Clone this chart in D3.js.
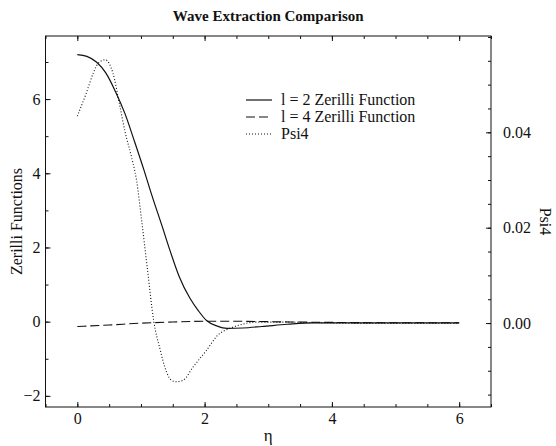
<!DOCTYPE html>
<html>
<head>
<meta charset="utf-8">
<script src="https://cdn.jsdelivr.net/npm/d3@7"></script>
<style>
  html, body { margin: 0; padding: 0; background: #fff; }
  svg { display: block; font-family: "Liberation Serif", "DejaVu Serif", serif; }
</style>
</head>
<body>
<svg id="chart" width="556" height="446"></svg>
<script>
// ---- data ----
const title = "Wave Extraction Comparison";
const xLabel = "η";
const yLeftLabel = "Zerilli Functions";
const yRightLabel = "Psi4";
const seriesNames = ["l = 2 Zerilli Function", "l = 4 Zerilli Function", "Psi4"];

const xTicks = [0, 2, 4, 6];
const yLeftTicks = [-2, 0, 2, 4, 6];
const yRightTicks = [0.00, 0.02, 0.04];

const etaL2 = [0, 0.15, 0.3, 0.45, 0.6, 0.75, 0.9, 1.05, 1.15, 1.35, 1.45, 1.6, 1.77, 1.9, 2.03, 2.2, 2.35, 2.6, 2.9, 3.3, 3.7, 4.5, 5.2, 6.0];
const l2 = [7.2, 7.15, 7.0, 6.7, 6.2, 5.6, 4.85, 4.07, 3.52, 2.48, 1.95, 1.22, 0.63, 0.3, 0.03, -0.12, -0.18, -0.17, -0.13, -0.07, -0.03, -0.03, -0.03, -0.03];

const etaL4 = [0, 0.5, 1.0, 1.5, 2.0, 2.5, 3.0, 4.0, 5.0, 6.0];
const l4 = [-0.13, -0.09, -0.04, -0.01, 0.01, 0.01, 0.0, -0.02, -0.03, -0.03];

const etaPsi = [0, 0.14, 0.25, 0.33, 0.44, 0.56, 0.67, 0.75, 0.85, 0.93, 1.01, 1.1, 1.2, 1.3, 1.4, 1.48, 1.56, 1.66, 1.82, 2.03, 2.21, 2.4, 2.55, 2.82, 3.2, 4.0, 5.0, 6.0];
const psi4 = [0.0434, 0.0482, 0.0524, 0.0545, 0.0552, 0.0524, 0.0454, 0.0401, 0.0349, 0.0300, 0.0216, 0.0115, 0.0005, -0.0055, -0.0102, -0.0120, -0.0123, -0.0120, -0.0092, -0.0057, -0.0025, -0.0011, -0.0004, 0.0002, 0.0002, 0.0, -0.0001, -0.0001];

// ---- layout ----
const svg = d3.select("#chart");
const L = 45.5, R = 491, T = 36, B = 407;

const x = d3.scaleLinear().domain([-0.5, 6.5]).range([L, R]);
const yL = d3.scaleLinear().domain([-2.3, 7.7]).range([B, T]);
const yR = d3.scaleLinear().domain([-0.0176, 0.0602]).range([B, T]);

const ink = "#111";

// frame
svg.append("rect").attr("x", L).attr("y", T).attr("width", R - L).attr("height", B - T)
  .attr("fill", "none").attr("stroke", ink).attr("stroke-width", 1);

function minor(scale, step) {
  const [a, b] = scale.domain();
  const out = [];
  for (let v = Math.ceil(a / step) * step; v <= b + 1e-9; v += step) out.push(+v.toFixed(6));
  return out;
}
const axStyle = g => { g.select(".domain").remove(); g.selectAll("line").attr("stroke", ink); };
const labStyle = g => g.selectAll("text").attr("font-size", 16).attr("fill", ink).attr("font-family", "Liberation Serif");

// bottom
svg.append("g").attr("transform", `translate(0,${B})`)
  .call(d3.axisTop(x).tickValues(minor(x, 0.5)).tickSize(3).tickFormat("")).call(axStyle);
svg.append("g").attr("transform", `translate(0,${B})`)
  .call(d3.axisTop(x).tickValues(xTicks).tickSize(5).tickFormat("")).call(axStyle);
svg.append("g").attr("transform", `translate(0,${B})`)
  .call(d3.axisBottom(x).tickValues(xTicks).tickSize(0).tickPadding(6).tickFormat(d3.format("d")))
  .call(axStyle).call(labStyle);
// top
svg.append("g").attr("transform", `translate(0,${T})`)
  .call(d3.axisBottom(x).tickValues(minor(x, 0.5)).tickSize(3).tickFormat("")).call(axStyle);
svg.append("g").attr("transform", `translate(0,${T})`)
  .call(d3.axisBottom(x).tickValues(xTicks).tickSize(5).tickFormat("")).call(axStyle);
// left
svg.append("g").attr("transform", `translate(${L},0)`)
  .call(d3.axisRight(yL).tickValues(minor(yL, 1)).tickSize(3).tickFormat("")).call(axStyle);
svg.append("g").attr("transform", `translate(${L},0)`)
  .call(d3.axisRight(yL).tickValues(yLeftTicks).tickSize(5).tickFormat("")).call(axStyle);
svg.append("g").attr("transform", `translate(${L},0)`)
  .call(d3.axisLeft(yL).tickValues(yLeftTicks).tickSize(0).tickPadding(5).tickFormat(d3.format("d")))
  .call(axStyle).call(labStyle);
// right
svg.append("g").attr("transform", `translate(${R},0)`)
  .call(d3.axisLeft(yR).tickValues(minor(yR, 0.005)).tickSize(3).tickFormat("")).call(axStyle);
svg.append("g").attr("transform", `translate(${R},0)`)
  .call(d3.axisLeft(yR).tickValues(yRightTicks).tickSize(5).tickFormat("")).call(axStyle);
svg.append("g").attr("transform", `translate(${R},0)`)
  .call(d3.axisRight(yR).tickValues(yRightTicks).tickSize(0).tickPadding(12).tickFormat(d3.format(".2f")))
  .call(axStyle).call(labStyle);

// titles
svg.append("text").attr("x", (L + R) / 2).attr("y", 21).attr("text-anchor", "middle")
  .attr("font-size", 15).attr("font-weight", "bold").attr("fill", ink).text(title);
svg.append("text").attr("x", (L + R) / 2).attr("y", 441).attr("text-anchor", "middle")
  .attr("font-size", 17).attr("fill", ink).text(xLabel);
svg.append("text").attr("transform", `translate(22,${(T + B) / 2}) rotate(-90)`)
  .attr("text-anchor", "middle").attr("font-size", 16).attr("fill", ink).text(yLeftLabel);
svg.append("text").attr("transform", `translate(540,${(T + B) / 2}) rotate(90)`)
  .attr("text-anchor", "middle").attr("font-size", 16).attr("fill", ink).text(yRightLabel);

// series
const styles = [
  { dash: null, w: 1.2 },
  { dash: "9,4", w: 1.1 },
  { dash: "1,2", w: 1.1 }
];
const lineL = d3.line().x(d => x(d[0])).y(d => yL(d[1])).curve(d3.curveMonotoneX);
const lineR = d3.line().x(d => x(d[0])).y(d => yR(d[1])).curve(d3.curveMonotoneX);

const sets = [
  { pts: d3.zip(etaL2, l2), gen: lineL },
  { pts: d3.zip(etaL4, l4), gen: lineL },
  { pts: d3.zip(etaPsi, psi4), gen: lineR }
];
sets.forEach((s, i) => {
  svg.append("path").attr("d", s.gen(s.pts)).attr("fill", "none")
    .attr("stroke", ink).attr("stroke-width", styles[i].w)
    .attr("stroke-dasharray", styles[i].dash);
});

// legend
const legY = [100, 117, 134];
seriesNames.forEach((name, i) => {
  svg.append("line").attr("x1", 246).attr("x2", 272).attr("y1", legY[i]).attr("y2", legY[i])
    .attr("stroke", ink).attr("stroke-width", styles[i].w).attr("stroke-dasharray", styles[i].dash);
  svg.append("text").attr("x", 281).attr("y", legY[i] + 5).attr("font-size", 16)
    .attr("fill", ink).text(name);
});
</script>
</body>
</html>
